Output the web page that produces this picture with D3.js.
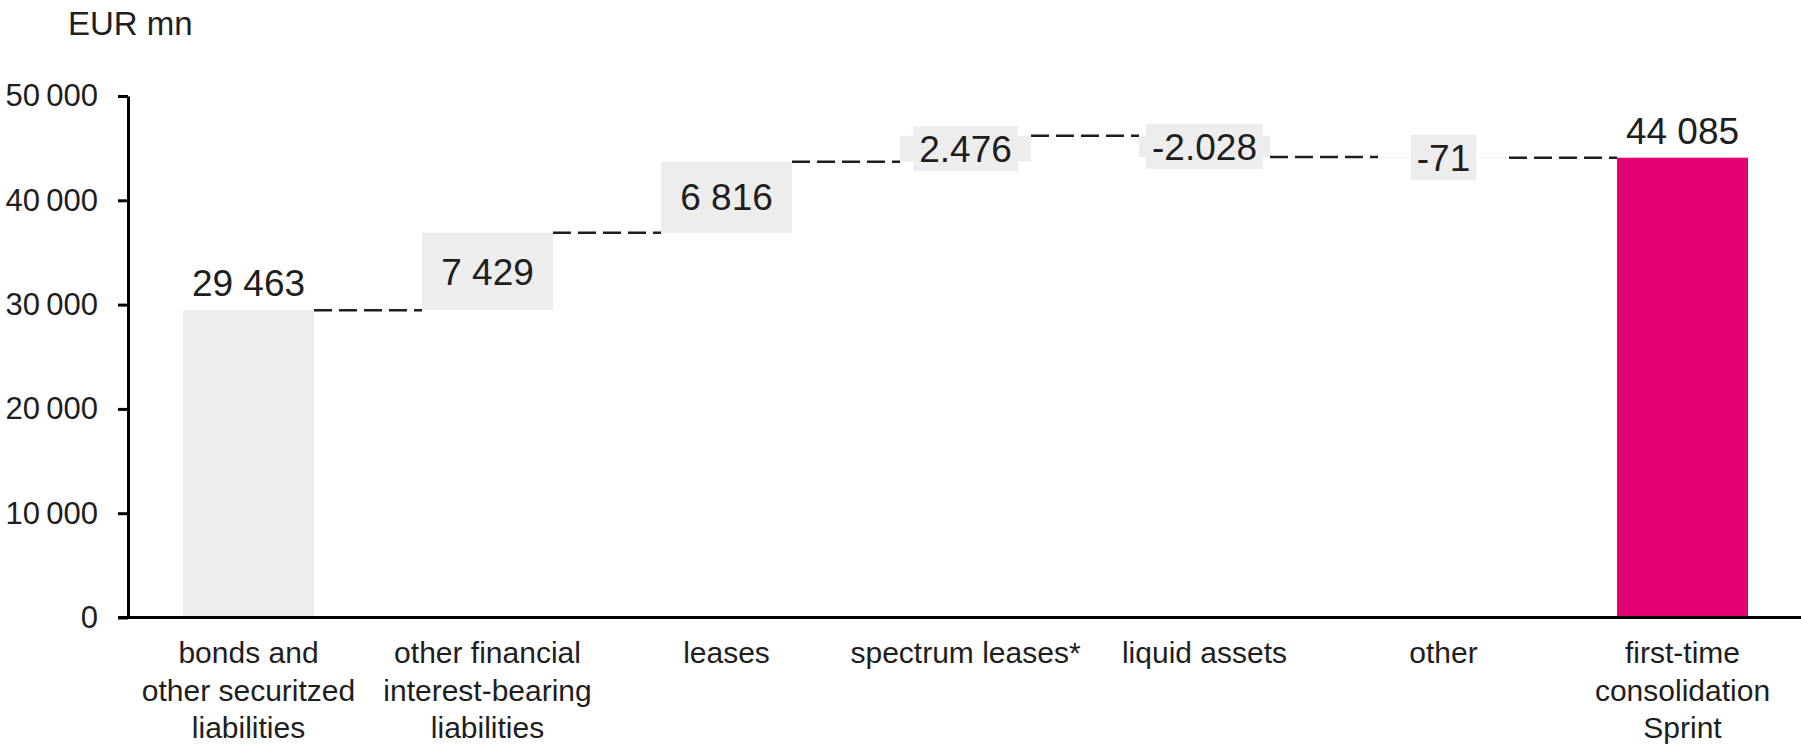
<!DOCTYPE html>
<html>
<head>
<meta charset="utf-8">
<script src="https://cdn.jsdelivr.net/npm/d3@7"></script>
<style>
  body { margin: 0; background: #fff; }
  text { font-family: "Liberation Sans", Arial, sans-serif; fill: #1e1e1e; }
</style>
</head>
<body>
<div id="chart"></div>
<script>
// Categories on the x axis (line breaks as printed).
const categories = [
  "bonds and\nother securitzed\nliabilities",
  "other financial\ninterest-bearing\nliabilities",
  "leases",
  "spectrum leases*",
  "liquid assets",
  "other",
  "first-time\nconsolidation\nSprint"
];
// EUR mn. First and last are full bars, the rest are steps.
const values = [29463, 7429, 6816, 2476, -2028, -71, 44085];
const kinds = ["total", "delta", "delta", "delta", "delta", "delta", "total"];
// Value labels as printed in the chart.
const valueLabels = ["29 463", "7 429", "6 816", "2.476", "-2.028", "-71", "44 085"];
// Y axis ticks.
const yTicks = [0, 10000, 20000, 30000, 40000, 50000];
const yTickLabels = ["0", "10\u2009000", "20\u2009000", "30\u2009000", "40\u2009000", "50\u2009000"];

const totalWidth = 1801;
const totalHeight = 748;
const margin = {top: 96, left: 128, bottom: 130.5};

const svg = d3.select("#chart")
  .append("svg")
  .attr("width", totalWidth)
  .attr("height", totalHeight);

// Running totals for the waterfall.
let running = 0;
const steps = values.map(function(v, i) {
  let y0, y1;
  if (kinds[i] === "total") { y0 = 0; y1 = v; }
  else { y0 = running; y1 = running + v; }
  running = y1;
  return {cat: categories[i], kind: kinds[i], label: valueLabels[i], y0: y0, y1: y1, i: i};
});

const x = d3.scaleBand()
  .domain(categories)
  .range([margin.left + 1, margin.left + 1 + 7 * 239])
  .paddingInner(0.452)
  .paddingOuter(0.226);

const y = d3.scaleLinear()
  .domain([0, 50000])
  .range([totalHeight - margin.bottom, margin.top]);

// Y axis.
const yAxis = svg.append("g")
  .attr("transform", `translate(${margin.left}, 0)`)
  .call(d3.axisLeft(y).tickValues(yTicks).tickFormat((d, i) => yTickLabels[i])
    .tickSize(10).tickSizeOuter(0).tickPadding(20));
yAxis.attr("font-size", 31).attr("font-family", null);
yAxis.selectAll("line, path").attr("stroke", "#000").attr("stroke-width", 3);

// Bars.
svg.selectAll(".bar")
  .data(steps)
  .join("rect")
    .attr("class", "bar")
    .attr("x", d => x(d.cat))
    .attr("width", x.bandwidth())
    .attr("y", d => y(Math.max(d.y0, d.y1)))
    .attr("height", d => Math.max(0.8, Math.abs(y(d.y0) - y(d.y1))))
    .style("fill", d => d.i === steps.length - 1 ? "#e20074" : "#ededed");

// Dashed connectors between bars.
svg.selectAll(".connector")
  .data(steps.slice(0, -1))
  .join("line")
    .attr("class", "connector")
    .attr("x1", d => x(d.cat) + x.bandwidth())
    .attr("x2", d => x(categories[d.i + 1]))
    .attr("y1", d => y(d.y1))
    .attr("y2", d => y(d.y1))
    .style("stroke", "#1e1e1e")
    .style("stroke-width", 2.5)
    .style("stroke-dasharray", "18,7");

// Value labels: totals above the bar, steps centred on a grey box.
const labels = svg.selectAll(".vlabel")
  .data(steps)
  .join("g")
    .attr("class", "vlabel")
    .attr("transform", function(d) {
      const cx = x(d.cat) + x.bandwidth() / 2;
      const cy = d.kind === "total" ? y(d.y1) - 14 : (y(d.y0) + y(d.y1)) / 2;
      return `translate(${cx}, ${cy})`;
    });

labels.append("text")
  .attr("text-anchor", "middle")
  .attr("dy", d => d.kind === "total" ? 0 : "0.36em")
  .style("font-size", "37px")
  .text(d => d.label);

labels.filter(d => d.kind === "delta").each(function() {
  const g = d3.select(this);
  const w = g.select("text").node().getComputedTextLength();
  g.insert("rect", "text")
    .attr("x", -w / 2 - 6)
    .attr("y", -22.5)
    .attr("width", w + 12)
    .attr("height", 45)
    .style("fill", "#ededed");
});

// X axis with multi-line category labels.
const xAxis = svg.append("g")
  .attr("transform", `translate(0, ${y(0)})`)
  .call(d3.axisBottom(x).tickSize(0));
xAxis.attr("font-size", 30).attr("font-family", null);
xAxis.select(".domain").remove();
xAxis.selectAll(".tick text").each(function(d) {
  const t = d3.select(this).text(null).attr("y", null).attr("dy", null);
  d.split("\n").forEach(function(line, k) {
    t.append("tspan").attr("x", 0).attr("y", 45.5 + k * 37.5).text(line);
  });
});

svg.append("line")
  .attr("x1", margin.left - 10)
  .attr("x2", totalWidth)
  .attr("y1", y(0))
  .attr("y2", y(0))
  .style("stroke", "#000")
  .style("stroke-width", 3);

// Unit label.
svg.append("text")
  .attr("x", 68)
  .attr("y", 35)
  .style("font-size", "33px")
  .text("EUR mn");
</script>
</body>
</html>
